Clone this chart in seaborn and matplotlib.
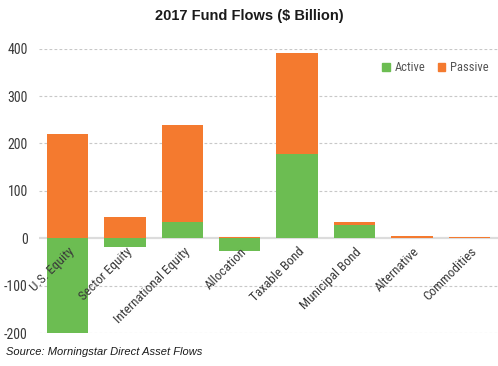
import matplotlib
matplotlib.use("Agg")
import matplotlib.pyplot as plt
import matplotlib.transforms as mtransforms
import seaborn as sns
import pandas as pd
import numpy as np
from matplotlib.patches import Patch

categories = ["U.S. Equity", "Sector Equity", "International Equity", "Allocation",
              "Taxable Bond", "Municipal Bond", "Alternative", "Commodities"]
active = [-200, -18, 35, -27, 178, 29, 0.5, 0]
passive = [220, 44, 205, 3.5, 212, 5, 5, 2.5]
yticks = [-200, -100, 0, 100, 200, 300, 400]

sns.set_theme(style="white")
plt.rcParams['font.family'] = ["Roboto Condensed", 'DejaVu Sans']

GREEN = "#6cbd52"
ORANGE = "#f47a2f"
TXT = "#3a3a3a"

df = pd.DataFrame({"cat": categories, "active": active, "passive": passive})
df["top"] = np.maximum(df["active"], 0) + df["passive"]

fig = plt.figure(figsize=(4.98, 3.66), dpi=100)
ax = fig.add_axes([0.078, 0.090, 0.922, 0.777])

sns.barplot(data=df, x="cat", y="top", color=ORANGE, width=0.72, ax=ax,
            saturation=1, edgecolor="none", zorder=1)
sns.barplot(data=df, x="cat", y="active", color=GREEN, width=0.72, ax=ax,
            saturation=1, edgecolor="none", zorder=1)
ax.set_axisbelow(False)

ax.set_ylim(-200, 400)
ax.set_xlim(-0.5, 7.5)
ax.set_yticks(yticks)
ax.set_yticklabels([str(v) for v in yticks], fontsize=10, color=TXT)
for v in yticks:
    if v != 0:
        ax.axhline(v, linestyle=(0, (2.5, 2)), color="#c8c8c8", linewidth=0.8, zorder=0)
ax.axhline(0, color="#dcdcdc", linewidth=1.6, zorder=0.8)
ax.grid(False)
for s in ax.spines.values():
    s.set_visible(False)
ax.spines['bottom'].set_position(('data', 0))
ax.tick_params(axis='both', length=0)
ax.tick_params(axis='x', pad=5)
ax.tick_params(axis='y', pad=8)
ax.set_xticks(range(len(categories)))
ax.set_xticklabels(categories, rotation=45, ha="right", rotation_mode="anchor",
                   fontsize=9.5, color=TXT)
for lbl in ax.get_xticklabels():
    lbl.set_transform(lbl.get_transform() + mtransforms.ScaledTranslation(0.5/72, 0, fig.dpi_scale_trans))
ax.set_xlabel("")
ax.set_ylabel("")

handles = [Patch(color=GREEN, label="Active"), Patch(color=ORANGE, label="Passive")]
leg = ax.legend(handles=handles, loc="upper right", bbox_to_anchor=(1.005, 0.995), ncol=2,
                frameon=False, fontsize=9, handlelength=0.6, handleheight=0.6,
                handletextpad=0.4, columnspacing=1.0)
for t in leg.get_texts():
    t.set_color("#555555")

fig.text(0.5, 0.957, "2017 Fund Flows ($ Billion)", ha="center", va="center",
         fontsize=10.5, fontweight="bold", family=["Liberation Sans", "DejaVu Sans"], color="#1a1a1a")
fig.text(0.012, 0.038, "Source: Morningstar Direct Asset Flows", ha="left", va="center",
         fontsize=8, style="italic", family=["Liberation Sans", "DejaVu Sans"], color="#1a1a1a")

fig.savefig("out.png", dpi=100)
